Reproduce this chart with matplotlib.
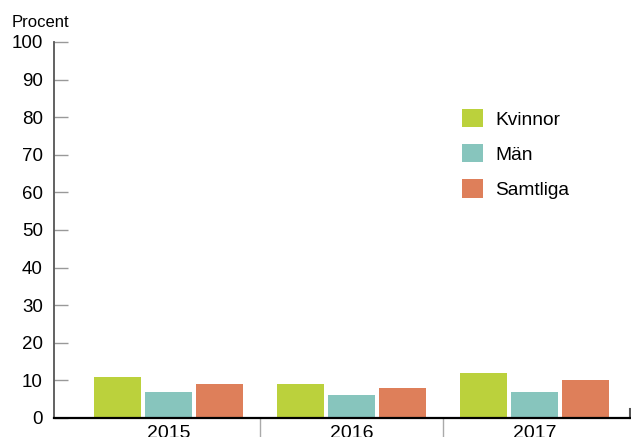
import matplotlib
matplotlib.use('Agg')
import matplotlib.pyplot as plt
import numpy as np

plt.rcParams['font.family'] = ['Liberation Sans', 'DejaVu Sans']

years = ['2015', '2016', '2017']
series = ['Kvinnor', 'Män', 'Samtliga']
kvinnor = [11, 9, 12]
man = [7, 6, 7]
samtliga = [9, 8, 10]
colors = ['#bbd13c', '#87c5bd', '#de7f5a']

fig = plt.figure(figsize=(6.31, 4.37), dpi=100)
ax = fig.add_axes([54 / 631, 19 / 437, 576 / 631, 376 / 437])

x = np.arange(len(years))
width = 0.257
step = 0.279
for i, (vals, name, c) in enumerate(zip([kvinnor, man, samtliga], series, colors)):
    ax.bar(x + (i - 1) * step, vals, width, color=c, label=name)

ax.set_xlim(-0.626, 2.522)
ax.set_ylim(0, 100)

# y axis
ax.set_yticks(range(0, 101, 10))
ax.tick_params(axis='y', direction='in', length=10, width=1, color='#999999',
               labelsize=13.5, pad=8)
ax.spines['left'].set_color('#555555')
ax.spines['left'].set_linewidth(1.3)
ax.spines['top'].set_visible(False)
ax.spines['right'].set_bounds(0, 2.4)
ax.spines['right'].set_color('#555555')
ax.spines['right'].set_linewidth(1.5)
ax.spines['bottom'].set_color('black')
ax.spines['bottom'].set_linewidth(1.6)

# x axis: labels at groups, separators as minor ticks
ax.set_xticks(x)
ax.set_xticklabels(years)
ax.set_xticks([0.5, 1.5], minor=True)
ax.tick_params(axis='x', which='major', length=0, labelsize=14, pad=5)
ax.tick_params(axis='x', which='minor', length=16, width=1, color='#aaaaaa')

fig.text(12 / 631, 1 - 30 / 437, 'Procent', fontsize=12, va='bottom', ha='left')

ax.legend(loc='upper left', bbox_to_anchor=(462 / 631, 1 - 109 / 437),
          bbox_transform=fig.transFigure, frameon=False, fontsize=13.8,
          handlelength=1.1, handleheight=1.1, handletextpad=0.65,
          labelspacing=0.8, borderpad=0, borderaxespad=0)

plt.savefig('out.png', dpi=100)
